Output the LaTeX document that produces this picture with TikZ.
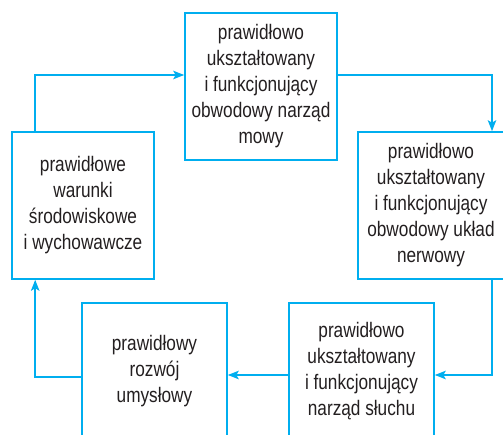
\documentclass[tikz,border=0pt]{standalone}
\usepackage{fontspec}
\setmainfont{Liberation Sans}[FakeStretch=0.82]
\usepackage{tikz}
\usetikzlibrary{positioning,arrows.meta}
\definecolor{linkclr}{RGB}{0,174,239}
\definecolor{txtclr}{RGB}{35,31,32}
\tikzset{
  box/.style={rectangle,draw=linkclr,line width=1.6pt,fill=white,
              align=center,text=txtclr,inner sep=2pt,
              font=\fontsize{21}{26}\selectfont},
  edge/.style={-{Stealth[length=11pt,width=8.5pt,inset=2.5pt]},
               draw=linkclr,line width=1.6pt},
}

\begin{document}
\begin{tikzpicture}[x=1pt,y=-1pt]
\useasboundingbox (0,0) rectangle (503,435);

% Boxes
\node[box,minimum width=152pt,minimum height=147pt] (mowa) at (261,86.5)
  {prawidłowo\\ukształtowany\\i funkcjonujący\\obwodowy narząd\\mowy};
\node[box,minimum width=142pt,minimum height=147pt] (srodowisko) at (83,205.5)
  {prawidłowe\\warunki\\środowiskowe\\i wychowawcze};
\node[box,minimum width=146pt,minimum height=147pt] (nerwy) at (431,205.5)
  {prawidłowo\\ukształtowany\\i funkcjonujący\\obwodowy układ\\nerwowy};
\node[box,minimum width=145pt,minimum height=137pt] (sluch) at (361.5,371.5)
  {prawidłowo\\ukształtowany\\i funkcjonujący\\narząd słuchu};
\node[box,minimum width=145pt,minimum height=137pt] (umysl) at (154.5,371.5)
  {prawidłowy\\rozwój\\umysłowy};

% Edges
\draw[edge] ([xshift=24pt]srodowisko.north west) |- ([yshift=11.5pt]mowa.west);
\draw[edge] ([yshift=11.5pt]mowa.east) -| ([xshift=61pt]nerwy.north);
\draw[edge] ([xshift=61pt]nerwy.south) |- ([yshift=-3.5pt]sluch.east);
\draw[edge] ([yshift=-3.5pt]sluch.west) -- ([yshift=-3.5pt]umysl.east);
\draw[edge] ([yshift=-5.5pt]umysl.west) -| ([xshift=24pt]srodowisko.south west);

\end{tikzpicture}
\end{document}
